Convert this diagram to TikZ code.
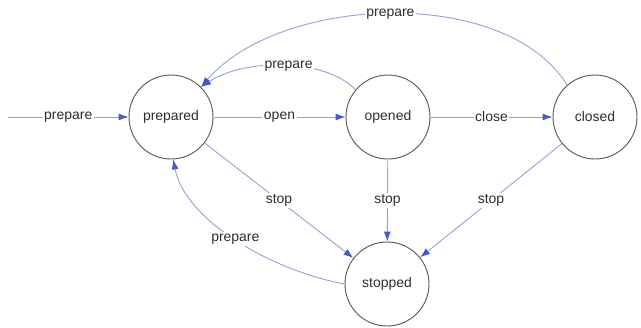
\documentclass[tikz,border=0pt]{standalone}
\usepackage{fontspec}
\setmainfont{Liberation Sans}
\usetikzlibrary{arrows.meta}
\definecolor{edgecol}{RGB}{150,160,215}
\definecolor{headcol}{RGB}{70,90,200}
\definecolor{ringcol}{RGB}{85,85,85}
\definecolor{txtcol}{RGB}{45,45,45}
\tikzset{
  state/.style={circle, draw=ringcol, line width=0.9bp, minimum size=84bp, inner sep=0pt, text=txtcol, font=\fontsize{14}{17}\selectfont},
  trans/.style={draw=edgecol, line width=0.9bp, -{Latex[length=10bp,width=7bp,color=headcol]}},
  lbl/.style={fill=white, inner sep=1.5bp, text=txtcol, font=\fontsize{14}{17}\selectfont}
}
\begin{document}
\begin{tikzpicture}[x=1bp,y=-1bp]
\useasboundingbox (0,0) rectangle (641,327);
\node[state] (prepared) at (171,117) {prepared};
\node[state] (opened) at (388,117) {opened};
\node[state] (closed) at (595,117) {closed};
\node[state] (stopped) at (387,284) {stopped};
\coordinate (start) at (8,117);

\draw[trans] (start) -- node[lbl] {prepare} (prepared);
\draw[trans] (prepared) -- node[lbl] {open} (opened);
\draw[trans] (opened) -- node[lbl] {close} (closed);
\draw[trans] (closed.131) .. controls (505,-15) and (280,-5) .. node[lbl, pos=0.5] {prepare} (prepared.45);
\draw[trans] (opened.140) .. controls (325,58) and (245,58) .. node[lbl, pos=0.47] {prepare} (prepared.45);
\draw[trans] (prepared) -- node[lbl] {stop} (stopped);
\draw[trans] (opened) -- node[lbl] {stop} (stopped);
\draw[trans] (closed) -- node[lbl] {stop} (stopped);
\draw[trans] (stopped.180) .. controls (270,270) and (185,220) .. node[lbl, pos=0.5] {prepare} (prepared.-87);
\end{tikzpicture}
\end{document}
